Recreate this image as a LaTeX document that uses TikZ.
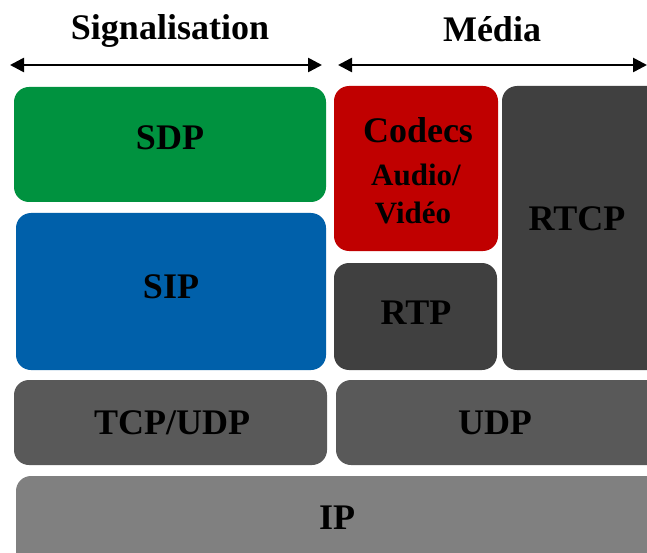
\documentclass[tikz,border=0pt]{standalone}
\usepackage{fontspec}
\setmainfont{Liberation Serif}
\usetikzlibrary{arrows.meta}
\definecolor{sdpgreen}{HTML}{00923F}
\definecolor{sipblue}{HTML}{0060AA}
\definecolor{codecred}{HTML}{C00000}
\definecolor{darkbox}{HTML}{404040}
\definecolor{midbox}{HTML}{595959}
\definecolor{ipbox}{HTML}{808080}
\tikzset{
  layer/.style={rounded corners=15pt, inner sep=0pt},
  tag/.style={font=\fontsize{36}{38}\selectfont\bfseries, inner sep=0pt, text=black},
  smalltag/.style={font=\fontsize{31}{34}\selectfont\bfseries, inner sep=0pt, text=black},
  span/.style={line width=2.6pt, {Triangle[length=14pt,width=14pt]}-{Triangle[length=14pt,width=14pt]}}
}
\begin{document}
\begin{tikzpicture}[x=1pt,y=-1pt]
  \clip (0,0) rectangle (647,553);
  \fill[white] (0,0) rectangle (647,553);
  % headings and their spans
  \node[tag, anchor=base] (sig) at (170,40) {Signalisation};
  \node[tag, anchor=base] (med) at (492,42) {Média};
  \coordinate (sigL) at (10,65);
  \coordinate (sigR) at (322,65);
  \coordinate (medL) at (338,65);
  \coordinate (medR) at (647,65);
  \draw[span] (sigL) -- (sigR);
  \draw[span] (medL) -- (medR);
  % signalling stack
  \node[layer, fill=sdpgreen, minimum width=312pt, minimum height=115pt] (sdp) at (170,144.5) {};
  \node[layer, fill=sipblue, minimum width=310pt, minimum height=157pt] (sip) at (171,291.5) {};
  \node[layer, fill=midbox, minimum width=313pt, minimum height=85pt] (tcp) at (170.5,422.5) {};
  % media stack
  \node[layer, fill=codecred, minimum width=164pt, minimum height=165pt] (codec) at (416,168.5) {};
  \node[layer, fill=darkbox, minimum width=163pt, minimum height=107pt] (rtp) at (415.5,316.5) {};
  \node[layer, fill=darkbox, minimum width=160pt, minimum height=284pt] (rtcp) at (582,228) {};
  \node[layer, fill=midbox, minimum width=326pt, minimum height=85pt] (udp) at (499,422.5) {};
  % network layer
  \node[layer, fill=ipbox, minimum width=650pt, minimum height=100pt] (ip) at (341,526) {};
  % layer names
  \node[tag, anchor=base] (sdpT) at (170,150) {SDP};
  \node[tag, anchor=base] (sipT) at (171,298) {SIP};
  \node[tag, anchor=base] (tcpT) at (172,434) {TCP/UDP};
  \node[tag, anchor=base] (codecT) at (418,143) {Codecs};
  \node[smalltag, anchor=base] (audioT) at (416,186) {Audio/};
  \node[smalltag, anchor=base] (videoT) at (413,224) {Vidéo};
  \node[tag, anchor=base] (rtpT) at (416,324) {RTP};
  \node[tag, anchor=base] (rtcpT) at (577,230) {RTCP};
  \node[tag, anchor=base] (udpT) at (495,434) {UDP};
  \node[tag, anchor=base] (ipT) at (337,529) {IP};
\end{tikzpicture}
\end{document}
